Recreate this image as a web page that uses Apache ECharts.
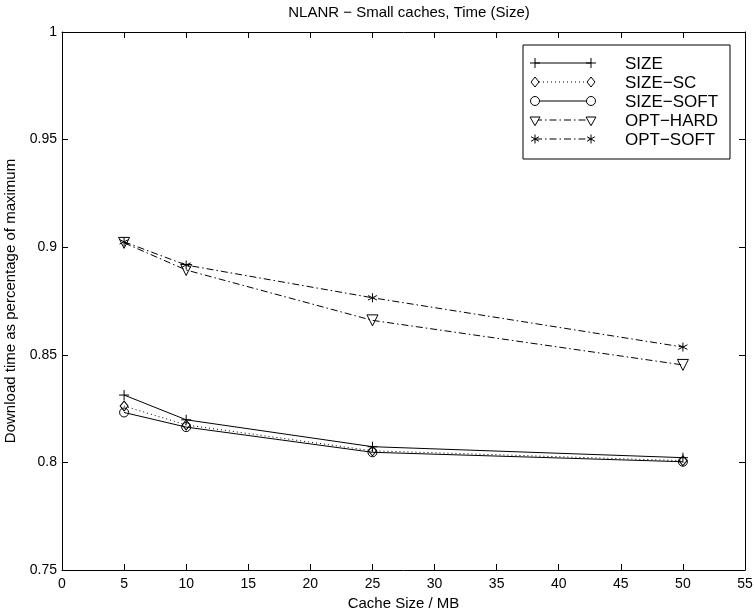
<!DOCTYPE html>
<html><head><meta charset="utf-8">
<script src="https://cdn.jsdelivr.net/npm/echarts@6/dist/echarts.min.js"></script>
<style>html,body{margin:0;padding:0;background:#fff}#c{width:755px;height:613px}</style>
</head><body><div id="c"></div>
<script>
const cacheSizes = [5, 10, 25, 50];
const sizeVals = [0.8313, 0.8198, 0.8073, 0.8022];
const sizeScVals = [0.8262, 0.8174, 0.8054, 0.8008];
const sizeSoftVals = [0.8232, 0.8164, 0.8047, 0.8003];
const optHardVals = [0.9020, 0.8894, 0.8660, 0.8453];
const optSoftVals = [0.9025, 0.8917, 0.8765, 0.8536];
const seriesNames = ['SIZE', 'SIZE\u2212SC', 'SIZE\u2212SOFT', 'OPT\u2212HARD', 'OPT\u2212SOFT'];
const titleText = 'NLANR \u2212 Small caches, Time (Size)';
const xName = 'Cache Size / MB';
const yName = 'Download time as percentage of maximum';

const FONT = 'Liberation Sans, Arial, sans-serif';
const PLUS = 'path://M0,5L10,5M5,0L5,10';
const STAR = 'path://M5,0L5,10M0.67,2.5L9.33,7.5M0.67,7.5L9.33,2.5';
const TRI = 'path://M0,0L10,0L5,8.66Z';
const DIAM = 'path://M5,0L10,6L5,12L0,6Z';
const dashDot = [7, 3, 1.5, 3];

function pairs(vals) { return cacheSizes.map((x, i) => [x, vals[i]]); }

const styles = [
  {symbol: PLUS, size: 10, type: 'solid'},
  {symbol: DIAM, size: [8, 10], type: [1, 3]},
  {symbol: 'circle', size: 9, type: 'solid'},
  {symbol: TRI, size: 11, type: dashDot},
  {symbol: STAR, size: 9, type: dashDot}
];
const allVals = [sizeVals, sizeScVals, sizeSoftVals, optHardVals, optSoftVals];

const series = allVals.map((vals, i) => ({
  name: seriesNames[i],
  type: 'line',
  data: pairs(vals),
  symbol: styles[i].symbol,
  symbolSize: styles[i].size,
  showAllSymbol: true,
  lineStyle: {color: '#000', width: 1, type: styles[i].type},
  itemStyle: {color: 'rgba(255,255,255,0)', borderColor: '#000', borderWidth: 1},
  emphasis: {disabled: true},
  animation: false,
  z: 3
}));

// legend drawn as graphic
const legendGraphics = [];
const lx0 = 523, ly0 = 45, lw = 207, lh = 114;
legendGraphics.push({type: 'rect', shape: {x: lx0, y: ly0, width: lw, height: lh},
  style: {fill: '#fff', stroke: '#000', lineWidth: 1}, z: 10});
function markerShape(i, cx, cy) {
  const st = {fill: 'none', stroke: '#000', lineWidth: 1};
  if (i === 0) return [{type: 'line', shape: {x1: cx - 5, y1: cy, x2: cx + 5, y2: cy}, style: st, z: 12},
                       {type: 'line', shape: {x1: cx, y1: cy - 5, x2: cx, y2: cy + 5}, style: st, z: 12}];
  if (i === 1) return [{type: 'polygon', shape: {points: [[cx, cy - 5], [cx + 4, cy], [cx, cy + 5], [cx - 4, cy]]}, style: {fill: '#fff', stroke: '#000', lineWidth: 1}, z: 12}];
  if (i === 2) return [{type: 'circle', shape: {cx: cx, cy: cy, r: 4.5}, style: {fill: '#fff', stroke: '#000', lineWidth: 1}, z: 12}];
  if (i === 3) return [{type: 'polygon', shape: {points: [[cx - 5, cy - 3], [cx + 5, cy - 3], [cx, cy + 5.7]]}, style: {fill: '#fff', stroke: '#000', lineWidth: 1}, z: 12}];
  const out = [];
  [[0, 4.5], [3.9, 2.25], [3.9, -2.25]].forEach(d => {
    out.push({type: 'line', shape: {x1: cx - d[0], y1: cy - d[1], x2: cx + d[0], y2: cy + d[1]}, style: st, z: 12});
  });
  return out;
}
seriesNames.forEach((nm, i) => {
  const y = 63 + i * 19;
  const x1 = 535, x2 = 591;
  const ld = styles[i].type === 'solid' ? null : styles[i].type;
  legendGraphics.push({type: 'line', shape: {x1: x1, y1: y, x2: x2, y2: y},
    style: {stroke: '#000', lineWidth: 1, lineDash: ld}, z: 11});
  markerShape(i, x1, y).forEach(g => legendGraphics.push(g));
  markerShape(i, x2, y).forEach(g => legendGraphics.push(g));
  legendGraphics.push({type: 'text', x: 625, y: y + 1, z: 12,
    style: {text: nm, fill: '#000', font: '17px ' + FONT, textVerticalAlign: 'middle', textBaseline: 'middle'}});
});

const axisCommon = {
  axisLine: {show: true, onZero: false, lineStyle: {color: '#000', width: 1}},
  axisTick: {show: true, inside: true, length: 6, lineStyle: {color: '#000', width: 1}},
  splitLine: {show: false},
  axisLabel: {color: '#000', fontSize: 14, fontFamily: FONT}
};

const chart = echarts.init(document.getElementById('c'), null, {renderer: 'canvas'});
chart.setOption({
  animation: false,
  backgroundColor: '#fff',
  title: {text: titleText, left: 404, top: 0, textAlign: 'center',
    textStyle: {fontSize: 15, fontWeight: 'normal', color: '#000', fontFamily: FONT}},
  grid: {left: 62, top: 32, right: 10, bottom: 43, containLabel: false, outerBoundsMode: 'none'},
  xAxis: [
    Object.assign({}, axisCommon, {type: 'value', min: 0, max: 55, interval: 5, position: 'bottom',
      name: xName, nameLocation: 'middle', nameGap: 25,
      nameTextStyle: {color: '#000', fontSize: 15, fontFamily: FONT},
      axisLabel: Object.assign({}, axisCommon.axisLabel, {margin: 7})}),
    Object.assign({}, axisCommon, {type: 'value', min: 0, max: 55, interval: 5, position: 'top',
      axisLabel: {show: false}})
  ],
  yAxis: [
    Object.assign({}, axisCommon, {type: 'value', min: 0.75, max: 1, interval: 0.05, position: 'left',
      name: yName, nameLocation: 'middle', nameGap: 39, nameRotate: 90,
      nameTextStyle: {color: '#000', fontSize: 15, fontFamily: FONT},
      axisLabel: Object.assign({}, axisCommon.axisLabel, {margin: 5})}),
    Object.assign({}, axisCommon, {type: 'value', min: 0.75, max: 1, interval: 0.05, position: 'right',
      axisLabel: {show: false}})
  ],
  series: series,
  graphic: legendGraphics
});
</script></body></html>
